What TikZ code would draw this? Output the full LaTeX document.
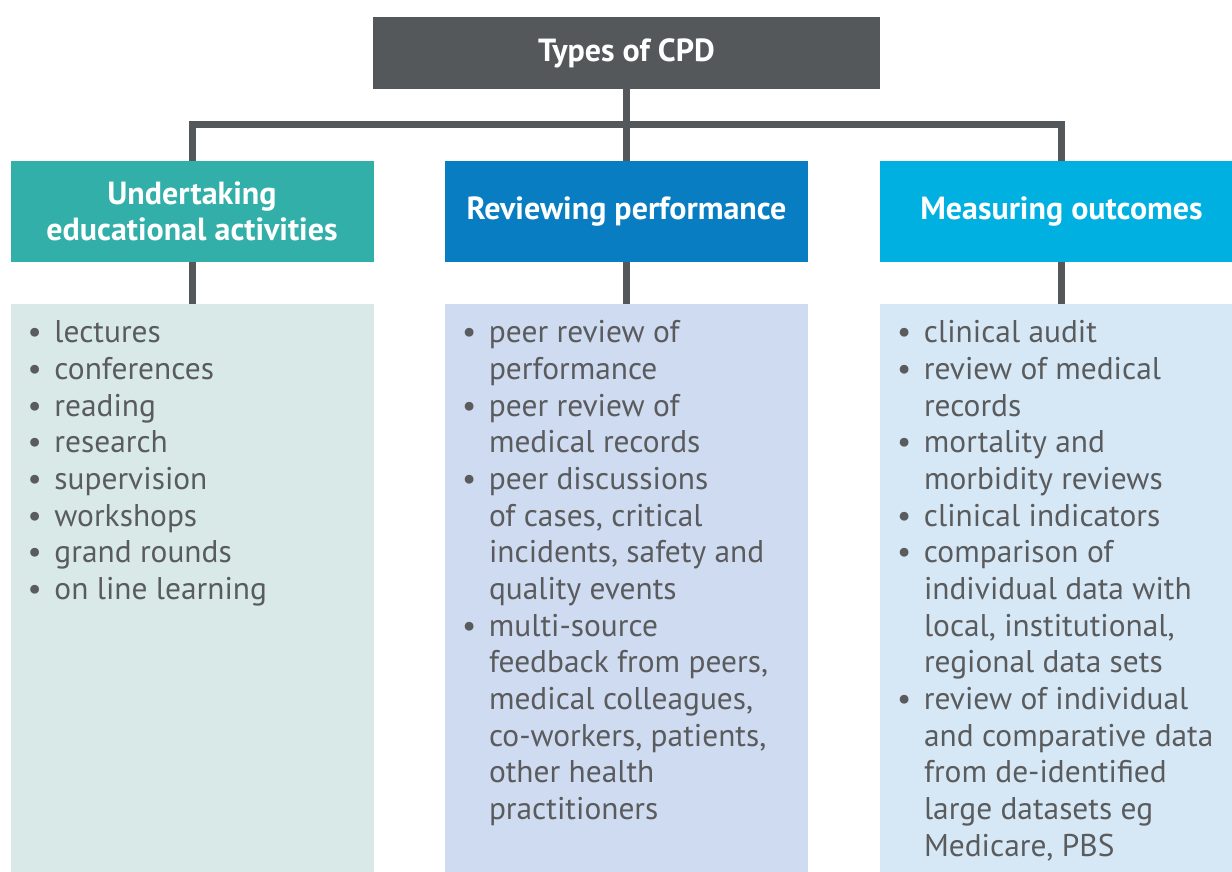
\documentclass[tikz,border=0pt]{standalone}
\usepackage{fontspec}
\setmainfont{PT Sans}
\definecolor{cpdgray}{HTML}{55585B}
\definecolor{eduteal}{HTML}{33AFA9}
\definecolor{revblue}{HTML}{087DC1}
\definecolor{outcyan}{HTML}{00B0E0}
\definecolor{edulight}{HTML}{D8E9E8}
\definecolor{revlight}{HTML}{CEDBF0}
\definecolor{outlight}{HTML}{D6E8F6}
\definecolor{listgray}{HTML}{5A5B5D}
\tikzstyle{cpdbox}=[rectangle, fill=cpdgray, minimum width=253.5pt, minimum height=36pt, inner sep=0pt, text=white, font=\bfseries\fontsize{16}{18}\selectfont]
\tikzstyle{head}=[rectangle, minimum width=181.5pt, minimum height=50.5pt, inner sep=0pt, text=white, align=center, font=\bfseries\fontsize{16}{18}\selectfont]
\tikzstyle{panel}=[rectangle, minimum width=181.5pt, minimum height=288pt, inner sep=0pt]
\tikzstyle{items}=[anchor=base west, inner sep=0pt, text=listgray, font=\fontsize{15.7}{18.35}\selectfont]
\tikzstyle{link}=[draw=cpdgray, line width=3.5pt]
\newcommand{\itemrows}[1]{\begin{tabular}[t]{@{}p{13.5pt}@{}l@{}}#1\end{tabular}}

\begin{document}
\begin{tikzpicture}[x=0.5pt, y=-0.5pt]
    \clip (0,0) rectangle (1232,872);
    \fill[white] (0,0) rectangle (1232,872);
    \node[cpdbox] (cpd) at (626.5,53) {\raisebox{-1.5pt}{Types of CPD}};
    \node[head, fill=eduteal] (edu) at (192,211.5) {Undertaking\\educational activities};
    \node[head, fill=revblue] (rev) at (626.5,211.5) {\raisebox{-1.5pt}{Reviewing performance}};
    \node[head, fill=outcyan] (out) at (1061.5,211.5) {\raisebox{-1.5pt}{Measuring outcomes}};
    \node[panel, fill=edulight] (edulist) at (192,592) {};
    \node[panel, fill=revlight] (revlist) at (626.5,592) {};
    \node[panel, fill=outlight] (outlist) at (1061.5,592) {};
    \coordinate (bar) at (626.5,125);
    \draw[link] (cpd) -- (rev);
    \draw[link] (edu) |- (bar) -| (out);
    \draw[link] (edu) -- (edulist);
    \draw[link] (rev) -- (revlist);
    \draw[link] (out) -- (outlist);
    \node[items] (eduitems) at ([xshift=8.5pt, yshift=-19.5pt]edulist.north west) {\itemrows{
        \textbullet & lectures\\
        \textbullet & conferences\\
        \textbullet & reading\\
        \textbullet & research\\
        \textbullet & supervision\\
        \textbullet & workshops\\
        \textbullet & grand rounds\\
        \textbullet & on line learning}};
    \node[items] (revitems) at ([xshift=8.5pt, yshift=-19.5pt]revlist.north west) {\itemrows{
        \textbullet & peer review of\\
        & performance\\
        \textbullet & peer review of\\
        & medical records\\
        \textbullet & peer discussions\\
        & of cases, critical\\
        & incidents, safety and\\
        & quality events\\
        \textbullet & multi-source\\
        & feedback from peers,\\
        & medical colleagues,\\
        & co-workers, patients,\\
        & other health\\
        & practitioners}};
    \node[items] (outitems) at ([xshift=8.5pt, yshift=-19.5pt]outlist.north west) {\itemrows{
        \textbullet & clinical audit\\
        \textbullet & review of medical\\
        & records\\
        \textbullet & mortality and\\
        & morbidity reviews\\
        \textbullet & clinical indicators\\
        \textbullet & comparison of\\
        & individual data with\\
        & local, institutional,\\
        & regional data sets\\
        \textbullet & review of individual\\
        & and comparative data\\
        & from de-identified\\
        & large datasets eg\\
        & Medicare, PBS}};
\end{tikzpicture}
\end{document}
